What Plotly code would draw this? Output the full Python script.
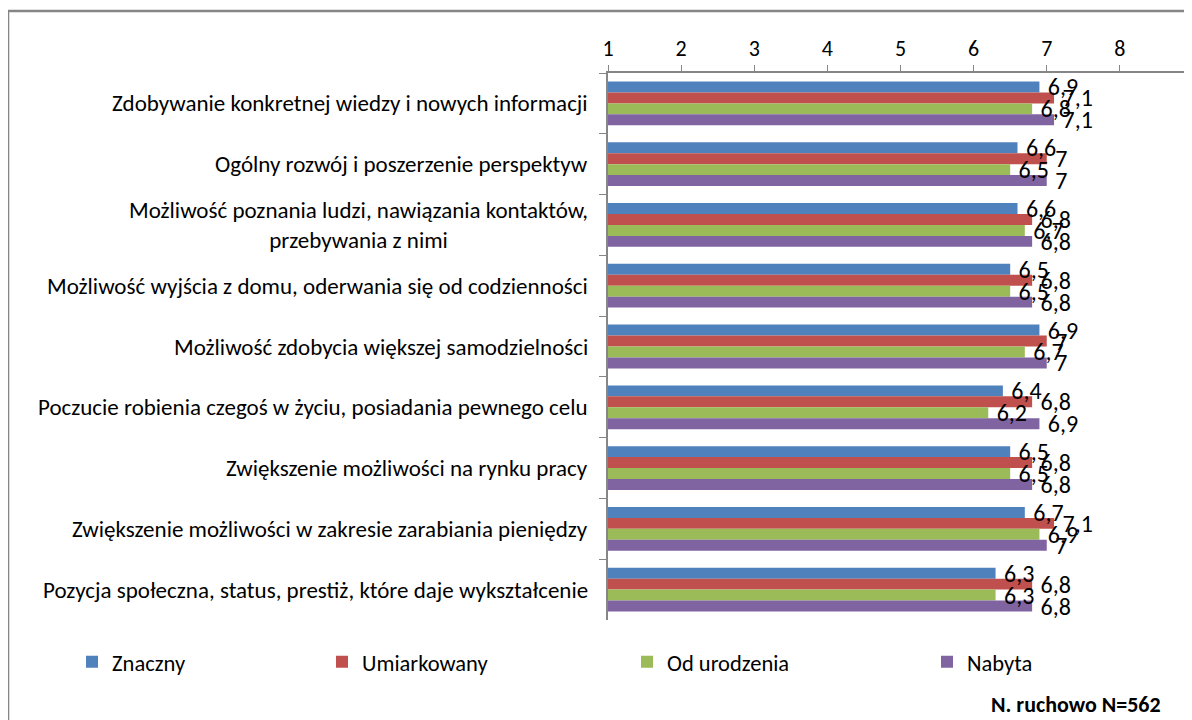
import plotly.graph_objects as go

categories = [
    "Zdobywanie konkretnej wiedzy i nowych informacji",
    "Ogólny rozwój i poszerzenie perspektyw",
    "Możliwość poznania ludzi, nawiązania kontaktów,<br>przebywania z nimi",
    "Możliwość wyjścia z domu, oderwania się od codzienności",
    "Możliwość zdobycia większej samodzielności",
    "Poczucie robienia czegoś w życiu, posiadania pewnego celu",
    "Zwiększenie możliwości na rynku pracy",
    "Zwiększenie możliwości w zakresie zarabiania pieniędzy",
    "Pozycja społeczna, status, prestiż, które daje wykształcenie",
]
znaczny = [6.9, 6.6, 6.6, 6.5, 6.9, 6.4, 6.5, 6.7, 6.3]
umiarkowany = [7.1, 7.0, 6.8, 6.8, 7.0, 6.8, 6.8, 7.1, 6.8]
od_urodzenia = [6.8, 6.5, 6.7, 6.5, 6.7, 6.2, 6.5, 6.9, 6.3]
nabyta = [7.1, 7.0, 6.8, 6.8, 7.0, 6.9, 6.8, 7.0, 6.8]
x_ticks = [1, 2, 3, 4, 5, 6, 7, 8, 9]
note = "N. ruchowo N=562"

series = [
    ("Znaczny", znaczny, "#4F81BD"),
    ("Umiarkowany", umiarkowany, "#C0504D"),
    ("Od urodzenia", od_urodzenia, "#9BBB59"),
    ("Nabyta", nabyta, "#8064A2"),
]
# one legend per series so entries sit where Excel put them
legend_x = [-0.9162, -0.4889, 0.0325, 0.5453]

FONT = "Carlito, Liberation Sans, Arial, sans-serif"


def fmt(v):
    return "\u00a0" + f"{v:g}".replace(".", ",")


fig = go.Figure()
for i, (name, vals, color) in enumerate(series):
    fig.add_trace(go.Bar(
        y=categories, x=[v - 1 for v in vals], base=1, orientation="h",
        name=name, marker=dict(color=color, line=dict(width=0)),
        offsetgroup=str(i), legend="legend" if i == 0 else f"legend{i + 1}",
        customdata=[f"{v:g}".replace(".", ",") for v in vals],
        hovertemplate="%{y}: %{customdata}<extra>" + name + "</extra>",
    ))
# transparent copies carry the labels so they are drawn above every bar
for i, (name, vals, color) in enumerate(series):
    fig.add_trace(go.Bar(
        y=categories, x=[v - 1 for v in vals], base=1, orientation="h",
        name=name, showlegend=False, hoverinfo="skip",
        marker=dict(color="rgba(0,0,0,0)", line=dict(width=0)),
        offsetgroup=str(i),
        text=[fmt(v) for v in vals], textposition="outside",
        constraintext="none", cliponaxis=False,
        textfont=dict(size=24, color="black", family=FONT),
    ))

# category labels as annotations so the wrapped one is centred like Excel
for c in categories:
    fig.add_annotation(x=0, y=c, xref="paper", yref="y", text=c,
                       showarrow=False, xanchor="right", xshift=-18,
                       align="center", font=dict(size=23, color="black", family=FONT))

fig.add_annotation(x=0.9487, y=-0.155, xref="paper", yref="paper", text="<b>" + note + "</b>",
                   showarrow=False, xanchor="right", yanchor="middle",
                   font=dict(size=22, color="black", family=FONT))

# outer chart border
fig.add_shape(type="rect", xref="paper", yref="paper",
              x0=-1.0256, x1=0.9966, y0=-0.3, y1=1.1133,
              line=dict(color="#868686", width=2.5), fillcolor="rgba(0,0,0,0)")

legends = {}
for i, lx in enumerate(legend_x):
    key = "legend" if i == 0 else f"legend{i + 1}"
    legends[key] = dict(orientation="h", x=lx, y=-0.077, xanchor="left", yanchor="middle",
                        font=dict(size=22.5, family=FONT), itemwidth=30,
                        bgcolor="rgba(0,0,0,0)")

fig.update_layout(
    width=1192, height=720,
    margin=dict(l=600, r=7, t=65, b=108, autoexpand=False),
    paper_bgcolor="white", plot_bgcolor="white",
    barmode="group", bargap=0.28, bargroupgap=0,
    font=dict(family=FONT, color="black"),
    showlegend=True,
    xaxis=dict(side="top", range=[1, 9], tickvals=x_ticks, showgrid=False,
               zeroline=False, showline=True, linecolor="#868686", linewidth=2,
               ticks="outside", ticklen=6, tickcolor="#868686",
               tickfont=dict(size=22, family=FONT, color="black")),
    yaxis=dict(autorange="reversed", showticklabels=False, showgrid=False,
               showline=True, linecolor="#868686", linewidth=2,
               ticks="outside", ticklen=7, tickcolor="#868686",
               tickson="boundaries"),
    **legends,
)

fig.write_html("out.html")
